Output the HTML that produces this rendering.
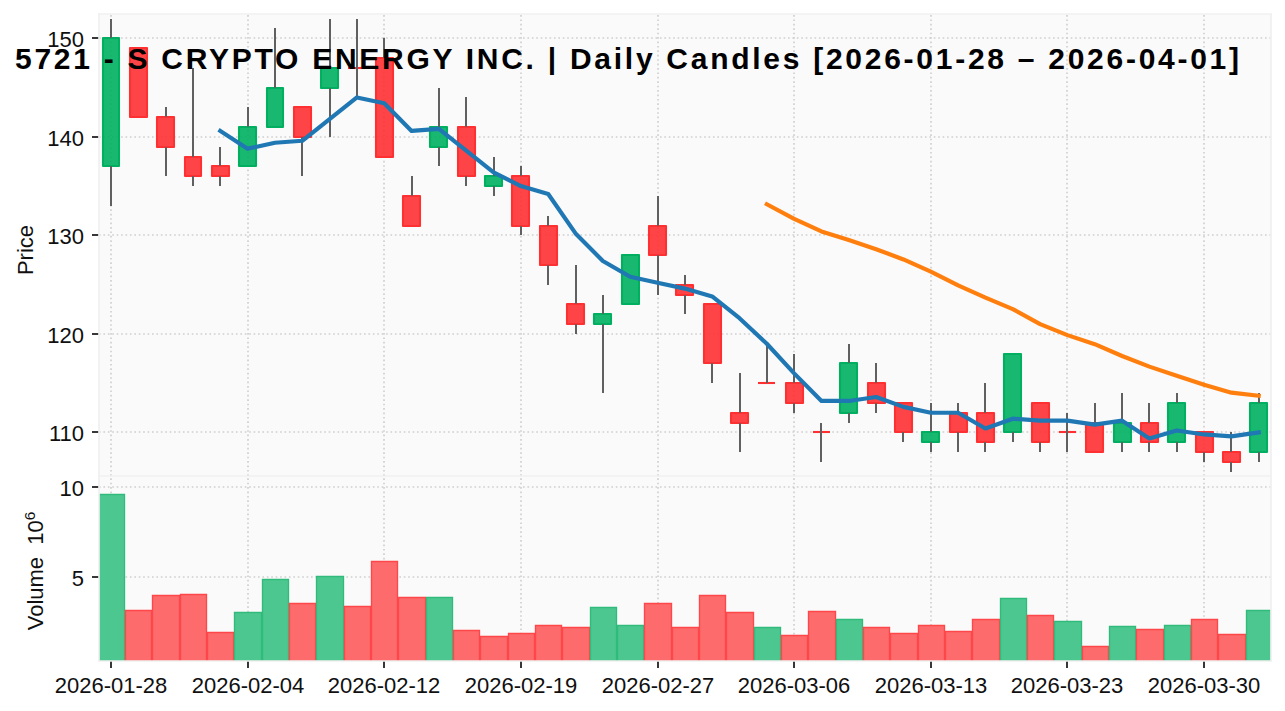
<!DOCTYPE html>
<html><head><meta charset="utf-8"><title>5721 - S CRYPTO ENERGY INC.</title><style>html,body{margin:0;padding:0;background:#fff;font-family:"Liberation Sans",sans-serif}svg{display:block}</style></head><body><svg width="1285" height="711" viewBox="0 0 1285 711" role="img" aria-label="5721 - S CRYPTO ENERGY INC. daily candles chart">
<title>5721 - S CRYPTO ENERGY INC. | Daily Candles [2026-01-28 – 2026-04-01]</title>
<desc>Daily candlestick chart with 5 and 25 day moving averages. Y axis: Price (110, 120, 130, 140, 150). Lower panel: Volume 10^6 (5, 10). X axis dates: 2026-01-28, 2026-02-04, 2026-02-12, 2026-02-19, 2026-02-27, 2026-03-06, 2026-03-13, 2026-03-23, 2026-03-30.</desc>
<rect width="1285" height="711" fill="#fff"/>
<defs><clipPath id="c1"><rect x="99" y="14" width="1172" height="462"/></clipPath><clipPath id="c2"><rect x="99" y="476" width="1172" height="185"/></clipPath></defs>
<rect x="99" y="14" width="1172" height="647" fill="#fafafa"/>
<g fill="none" stroke="#d0d0d0" stroke-width="1.67" stroke-dasharray="1.6667 2.7500"><path d="M111 476V14"/><path d="M111 661V476"/><path d="M248 476V14"/><path d="M248 661V476"/><path d="M384 476V14"/><path d="M384 661V476"/><path d="M521 476V14"/><path d="M521 661V476"/><path d="M658 476V14"/><path d="M658 661V476"/><path d="M794 476V14"/><path d="M794 661V476"/><path d="M931 476V14"/><path d="M931 661V476"/><path d="M1067 476V14"/><path d="M1067 661V476"/><path d="M1204 476V14"/><path d="M1204 661V476"/><path d="M99 432H1271"/><path d="M99 334H1271"/><path d="M99 235H1271"/><path d="M99 137H1271"/><path d="M99 38H1271"/><path d="M99 577H1271"/><path d="M99 487H1271"/></g>
<g clip-path="url(#c1)">
<path d="M103 38H119V166H103Z" fill="#00b060" fill-opacity="0.9" stroke="#00b060" stroke-width="2.08" stroke-linejoin="round"/><path d="M130 48H147V117H130Z" fill="#fe3032" fill-opacity="0.9" stroke="#fe3032" stroke-width="2.08" stroke-linejoin="round"/><path d="M157 117H174V147H157Z" fill="#fe3032" fill-opacity="0.9" stroke="#fe3032" stroke-width="2.08" stroke-linejoin="round"/><path d="M185 157H201V176H185Z" fill="#fe3032" fill-opacity="0.9" stroke="#fe3032" stroke-width="2.08" stroke-linejoin="round"/><path d="M212 166H229V176H212Z" fill="#fe3032" fill-opacity="0.9" stroke="#fe3032" stroke-width="2.08" stroke-linejoin="round"/><path d="M239 127H256V166H239Z" fill="#00b060" fill-opacity="0.9" stroke="#00b060" stroke-width="2.08" stroke-linejoin="round"/><path d="M267 88H283V127H267Z" fill="#00b060" fill-opacity="0.9" stroke="#00b060" stroke-width="2.08" stroke-linejoin="round"/><path d="M294 107H311V137H294Z" fill="#fe3032" fill-opacity="0.9" stroke="#fe3032" stroke-width="2.08" stroke-linejoin="round"/><path d="M321 68H338V88H321Z" fill="#00b060" fill-opacity="0.9" stroke="#00b060" stroke-width="2.08" stroke-linejoin="round"/><path d="M348 68H365" fill="none" stroke="#fe3032" stroke-width="2.08"/><path d="M376 58H393V157H376Z" fill="#fe3032" fill-opacity="0.9" stroke="#fe3032" stroke-width="2.08" stroke-linejoin="round"/><path d="M403 196H420V226H403Z" fill="#fe3032" fill-opacity="0.9" stroke="#fe3032" stroke-width="2.08" stroke-linejoin="round"/><path d="M430 127H447V147H430Z" fill="#00b060" fill-opacity="0.9" stroke="#00b060" stroke-width="2.08" stroke-linejoin="round"/><path d="M458 127H475V176H458Z" fill="#fe3032" fill-opacity="0.9" stroke="#fe3032" stroke-width="2.08" stroke-linejoin="round"/><path d="M485 176H502V186H485Z" fill="#00b060" fill-opacity="0.9" stroke="#00b060" stroke-width="2.08" stroke-linejoin="round"/><path d="M512 176H529V226H512Z" fill="#fe3032" fill-opacity="0.9" stroke="#fe3032" stroke-width="2.08" stroke-linejoin="round"/><path d="M540 226H557V265H540Z" fill="#fe3032" fill-opacity="0.9" stroke="#fe3032" stroke-width="2.08" stroke-linejoin="round"/><path d="M567 304H584V324H567Z" fill="#fe3032" fill-opacity="0.9" stroke="#fe3032" stroke-width="2.08" stroke-linejoin="round"/><path d="M594 314H611V324H594Z" fill="#00b060" fill-opacity="0.9" stroke="#00b060" stroke-width="2.08" stroke-linejoin="round"/><path d="M622 255H639V304H622Z" fill="#00b060" fill-opacity="0.9" stroke="#00b060" stroke-width="2.08" stroke-linejoin="round"/><path d="M649 226H666V255H649Z" fill="#fe3032" fill-opacity="0.9" stroke="#fe3032" stroke-width="2.08" stroke-linejoin="round"/><path d="M676 285H693V295H676Z" fill="#fe3032" fill-opacity="0.9" stroke="#fe3032" stroke-width="2.08" stroke-linejoin="round"/><path d="M704 304H721V363H704Z" fill="#fe3032" fill-opacity="0.9" stroke="#fe3032" stroke-width="2.08" stroke-linejoin="round"/><path d="M731 413H748V423H731Z" fill="#fe3032" fill-opacity="0.9" stroke="#fe3032" stroke-width="2.08" stroke-linejoin="round"/><path d="M758 383H775" fill="none" stroke="#fe3032" stroke-width="2.08"/><path d="M786 383H803V403H786Z" fill="#fe3032" fill-opacity="0.9" stroke="#fe3032" stroke-width="2.08" stroke-linejoin="round"/><path d="M813 432H830" fill="none" stroke="#fe3032" stroke-width="2.08"/><path d="M840 363H857V413H840Z" fill="#00b060" fill-opacity="0.9" stroke="#00b060" stroke-width="2.08" stroke-linejoin="round"/><path d="M868 383H885V403H868Z" fill="#fe3032" fill-opacity="0.9" stroke="#fe3032" stroke-width="2.08" stroke-linejoin="round"/><path d="M895 403H912V432H895Z" fill="#fe3032" fill-opacity="0.9" stroke="#fe3032" stroke-width="2.08" stroke-linejoin="round"/><path d="M922 432H939V442H922Z" fill="#00b060" fill-opacity="0.9" stroke="#00b060" stroke-width="2.08" stroke-linejoin="round"/><path d="M950 413H967V432H950Z" fill="#fe3032" fill-opacity="0.9" stroke="#fe3032" stroke-width="2.08" stroke-linejoin="round"/><path d="M977 413H994V442H977Z" fill="#fe3032" fill-opacity="0.9" stroke="#fe3032" stroke-width="2.08" stroke-linejoin="round"/><path d="M1004 354H1021V432H1004Z" fill="#00b060" fill-opacity="0.9" stroke="#00b060" stroke-width="2.08" stroke-linejoin="round"/><path d="M1032 403H1049V442H1032Z" fill="#fe3032" fill-opacity="0.9" stroke="#fe3032" stroke-width="2.08" stroke-linejoin="round"/><path d="M1059 432H1076" fill="none" stroke="#fe3032" stroke-width="2.08"/><path d="M1086 423H1103V452H1086Z" fill="#fe3032" fill-opacity="0.9" stroke="#fe3032" stroke-width="2.08" stroke-linejoin="round"/><path d="M1114 423H1131V442H1114Z" fill="#00b060" fill-opacity="0.9" stroke="#00b060" stroke-width="2.08" stroke-linejoin="round"/><path d="M1141 423H1158V442H1141Z" fill="#fe3032" fill-opacity="0.9" stroke="#fe3032" stroke-width="2.08" stroke-linejoin="round"/><path d="M1168 403H1185V442H1168Z" fill="#00b060" fill-opacity="0.9" stroke="#00b060" stroke-width="2.08" stroke-linejoin="round"/><path d="M1196 432H1213V452H1196Z" fill="#fe3032" fill-opacity="0.9" stroke="#fe3032" stroke-width="2.08" stroke-linejoin="round"/><path d="M1223 452H1240V462H1223Z" fill="#fe3032" fill-opacity="0.9" stroke="#fe3032" stroke-width="2.08" stroke-linejoin="round"/><path d="M1250 403H1267V452H1250Z" fill="#00b060" fill-opacity="0.9" stroke="#00b060" stroke-width="2.08" stroke-linejoin="round"/>
<g stroke="#606060" stroke-width="2" fill="none"><path d="M111 19V38"/><path d="M111 166V206"/><path d="M166 107V117"/><path d="M166 147V176"/><path d="M193 68V157"/><path d="M193 176V186"/><path d="M220 147V166"/><path d="M220 176V186"/><path d="M248 107V127"/><path d="M275 28V88"/><path d="M302 137V176"/><path d="M330 19V68"/><path d="M330 88V137"/><path d="M357 19V68"/><path d="M357 68V97"/><path d="M384 38V58"/><path d="M412 176V196"/><path d="M439 88V127"/><path d="M439 147V166"/><path d="M466 97V127"/><path d="M466 176V186"/><path d="M494 157V176"/><path d="M494 186V196"/><path d="M521 166V176"/><path d="M521 226V235"/><path d="M548 216V226"/><path d="M548 265V285"/><path d="M576 265V304"/><path d="M576 324V334"/><path d="M603 295V314"/><path d="M603 324V393"/><path d="M658 196V226"/><path d="M658 255V295"/><path d="M685 275V285"/><path d="M685 295V314"/><path d="M712 363V383"/><path d="M740 373V413"/><path d="M740 423V452"/><path d="M767 344V383"/><path d="M794 354V383"/><path d="M794 403V413"/><path d="M821 423V432"/><path d="M821 432V462"/><path d="M849 344V363"/><path d="M849 413V423"/><path d="M876 363V383"/><path d="M876 403V413"/><path d="M903 432V442"/><path d="M931 403V432"/><path d="M931 442V452"/><path d="M958 403V413"/><path d="M958 432V452"/><path d="M985 383V413"/><path d="M985 442V452"/><path d="M1013 432V442"/><path d="M1040 442V452"/><path d="M1067 413V432"/><path d="M1067 432V452"/><path d="M1095 403V423"/><path d="M1122 393V423"/><path d="M1122 442V452"/><path d="M1149 403V423"/><path d="M1149 442V452"/><path d="M1177 393V403"/><path d="M1177 442V452"/><path d="M1204 452V462"/><path d="M1231 432V452"/><path d="M1231 462V472"/><path d="M1259 393V403"/><path d="M1259 452V462"/></g>
<path d="M220.28 130.92L247.61 148.66L274.94 142.75L302.26 140.78L329.59 119.1L356.92 97.42L384.25 103.33L411.57 130.92L438.9 128.95L466.23 150.63L493.56 172.31L520.88 186.11L548.21 193.99L575.54 233.41L602.87 261L630.19 276.77L657.52 282.68L684.85 288.6L712.18 296.48L739.5 318.16L766.83 343.78L794.16 373.35L821.49 400.94L848.81 400.94L876.14 397L903.47 406.85L930.8 412.76L958.12 412.76L985.45 428.53L1012.78 418.68L1040.11 420.65L1067.43 420.65L1094.76 424.59L1122.09 420.65L1149.41 438.38L1176.74 430.5L1204.07 434.44L1231.4 436.41L1258.73 432.47" fill="none" stroke="#1f77b4" stroke-width="4.17" stroke-linejoin="round" stroke-linecap="square"/>
<path d="M766.83 204.24L794.16 218.83L821.49 231.44L848.81 240.11L876.14 249.18L903.47 259.43L930.8 271.65L958.12 285.44L985.45 297.66L1012.78 309.09L1040.11 324.07L1067.43 335.11L1094.76 344.18L1122.09 356L1149.41 366.64L1176.74 375.71L1204.07 384.78L1231.4 392.66L1258.73 395.81" fill="none" stroke="#ff7f0e" stroke-width="4.17" stroke-linejoin="round" stroke-linecap="square"/>
</g>
<g clip-path="url(#c2)" stroke-width="1.35"><path d="M98.5 666V494.5H124.5V666Z" fill="#4dc790" stroke="#30bb7b"/><path d="M125.5 666V610.5H151.5V666Z" fill="#fd6b6c" stroke="#fe474a"/><path d="M152.5 666V595.5H179.5V666Z" fill="#fd6b6c" stroke="#fe474a"/><path d="M180.5 666V594.5H206.5V666Z" fill="#fd6b6c" stroke="#fe474a"/><path d="M207.5 666V632.5H233.5V666Z" fill="#fd6b6c" stroke="#fe474a"/><path d="M234.5 666V612.5H261.5V666Z" fill="#4dc790" stroke="#30bb7b"/><path d="M262.5 666V579.5H288.5V666Z" fill="#4dc790" stroke="#30bb7b"/><path d="M289.5 666V603.5H315.5V666Z" fill="#fd6b6c" stroke="#fe474a"/><path d="M316.5 666V576.5H343.5V666Z" fill="#4dc790" stroke="#30bb7b"/><path d="M344.5 666V606.5H370.5V666Z" fill="#fd6b6c" stroke="#fe474a"/><path d="M371.5 666V561.5H397.5V666Z" fill="#fd6b6c" stroke="#fe474a"/><path d="M398.5 666V597.5H425.5V666Z" fill="#fd6b6c" stroke="#fe474a"/><path d="M426.5 666V597.5H452.5V666Z" fill="#4dc790" stroke="#30bb7b"/><path d="M453.5 666V630.5H479.5V666Z" fill="#fd6b6c" stroke="#fe474a"/><path d="M480.5 666V636.5H507.5V666Z" fill="#fd6b6c" stroke="#fe474a"/><path d="M508.5 666V633.5H534.5V666Z" fill="#fd6b6c" stroke="#fe474a"/><path d="M535.5 666V625.5H561.5V666Z" fill="#fd6b6c" stroke="#fe474a"/><path d="M562.5 666V627.5H589.5V666Z" fill="#fd6b6c" stroke="#fe474a"/><path d="M590.5 666V607.5H616.5V666Z" fill="#4dc790" stroke="#30bb7b"/><path d="M617.5 666V625.5H643.5V666Z" fill="#4dc790" stroke="#30bb7b"/><path d="M644.5 666V603.5H671.5V666Z" fill="#fd6b6c" stroke="#fe474a"/><path d="M672.5 666V627.5H698.5V666Z" fill="#fd6b6c" stroke="#fe474a"/><path d="M699.5 666V595.5H725.5V666Z" fill="#fd6b6c" stroke="#fe474a"/><path d="M726.5 666V612.5H753.5V666Z" fill="#fd6b6c" stroke="#fe474a"/><path d="M754.5 666V627.5H780.5V666Z" fill="#4dc790" stroke="#30bb7b"/><path d="M781.5 666V635.5H807.5V666Z" fill="#fd6b6c" stroke="#fe474a"/><path d="M808.5 666V611.5H835.5V666Z" fill="#fd6b6c" stroke="#fe474a"/><path d="M836.5 666V619.5H862.5V666Z" fill="#4dc790" stroke="#30bb7b"/><path d="M863.5 666V627.5H889.5V666Z" fill="#fd6b6c" stroke="#fe474a"/><path d="M890.5 666V633.5H917.5V666Z" fill="#fd6b6c" stroke="#fe474a"/><path d="M918.5 666V625.5H944.5V666Z" fill="#fd6b6c" stroke="#fe474a"/><path d="M945.5 666V631.5H971.5V666Z" fill="#fd6b6c" stroke="#fe474a"/><path d="M972.5 666V619.5H999.5V666Z" fill="#fd6b6c" stroke="#fe474a"/><path d="M1000.5 666V598.5H1026.5V666Z" fill="#4dc790" stroke="#30bb7b"/><path d="M1027.5 666V615.5H1053.5V666Z" fill="#fd6b6c" stroke="#fe474a"/><path d="M1054.5 666V621.5H1081.5V666Z" fill="#4dc790" stroke="#30bb7b"/><path d="M1082.5 666V646.5H1108.5V666Z" fill="#fd6b6c" stroke="#fe474a"/><path d="M1109.5 666V626.5H1135.5V666Z" fill="#4dc790" stroke="#30bb7b"/><path d="M1136.5 666V629.5H1163.5V666Z" fill="#fd6b6c" stroke="#fe474a"/><path d="M1164.5 666V625.5H1190.5V666Z" fill="#4dc790" stroke="#30bb7b"/><path d="M1191.5 666V619.5H1217.5V666Z" fill="#fd6b6c" stroke="#fe474a"/><path d="M1218.5 666V634.5H1245.5V666Z" fill="#fd6b6c" stroke="#fe474a"/><path d="M1246.5 666V610.5H1272.5V666Z" fill="#4dc790" stroke="#30bb7b"/></g>
<g fill="none" stroke="#101010" stroke-width="1.6667"><path d="M99 432H92"/><path d="M99 334H92"/><path d="M99 235H92"/><path d="M99 137H92"/><path d="M99 38H92"/><path d="M99 577H92"/><path d="M99 487H92"/><path d="M111 661V668"/><path d="M248 661V668"/><path d="M384 661V668"/><path d="M521 661V668"/><path d="M658 661V668"/><path d="M794 661V668"/><path d="M931 661V668"/><path d="M1067 661V668"/><path d="M1204 661V668"/></g>
<g fill="none" stroke="#f0f0f0" stroke-width="1.6667" stroke-linecap="square"><path d="M99 14V661"/><path d="M1271 14V661"/><path d="M99 14H1271"/><path d="M99 476H1271"/><path d="M99 661H1271"/></g>
<g font-family="&quot;Liberation Sans&quot;, sans-serif" font-size="22" fill="#101010">
<g text-anchor="end">
<text x="84" y="441">110</text>
<text x="84" y="343">120</text>
<text x="84" y="244">130</text>
<text x="84" y="146">140</text>
<text x="84" y="47">150</text>
<text x="84" y="586">5</text>
<text x="84" y="496">10</text>
</g>
<g text-anchor="middle">
<text x="111" y="693">2026-01-28</text>
<text x="248" y="693">2026-02-04</text>
<text x="384" y="693">2026-02-12</text>
<text x="521" y="693">2026-02-19</text>
<text x="658" y="693">2026-02-27</text>
<text x="794" y="693">2026-03-06</text>
<text x="931" y="693">2026-03-13</text>
<text x="1067" y="693">2026-03-23</text>
<text x="1204" y="693">2026-03-30</text>
<text transform="translate(33 250) rotate(-90)">Price</text>
<text transform="translate(43 571) rotate(-90)" xml:space="preserve">Volume  10<tspan dy="-8" font-size="15.4">6</tspan></text>
</g>
</g>
<text x="15" y="69" font-family="&quot;Liberation Sans&quot;, sans-serif" font-size="30" font-weight="bold" fill="#000" textLength="1224" lengthAdjust="spacing">5721 - S CRYPTO ENERGY INC. | Daily Candles [2026-01-28 – 2026-04-01]</text>
</svg></body></html>
